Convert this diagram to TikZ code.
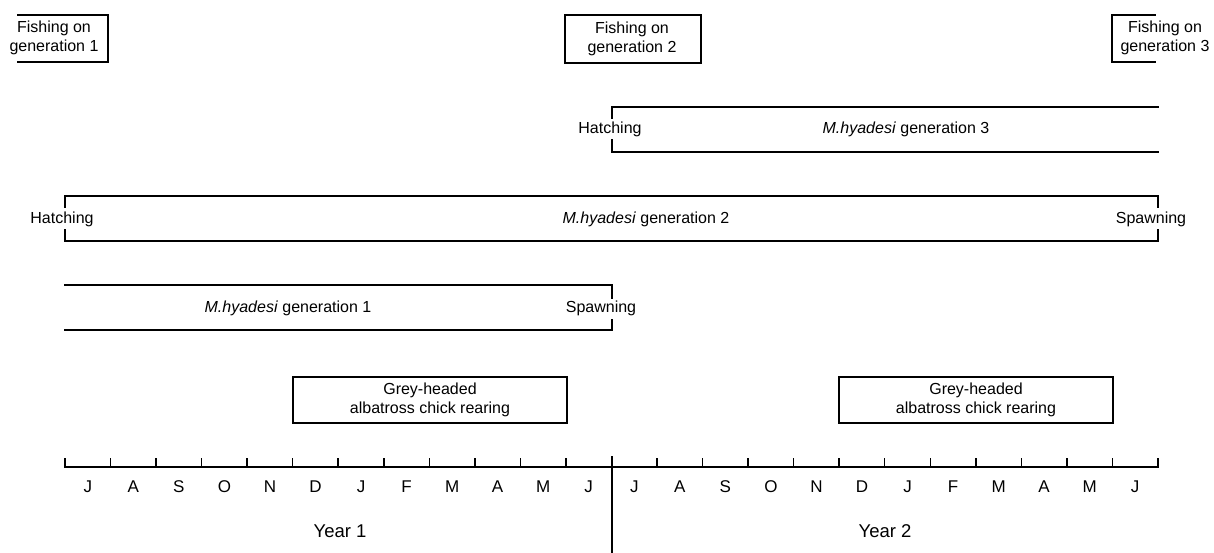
\documentclass[tikz,border=0pt]{standalone}
\usepackage{fontspec}
\setmainfont{Liberation Sans}
\begin{document}
\begin{tikzpicture}[x=1pt,y=-1pt,line width=1.5pt,line cap=rect,
  lbl/.style={font=\fontsize{16}{19.5}\selectfont,inner sep=0pt,align=center},
  mon/.style={font=\fontsize{17}{20}\selectfont,inner sep=0pt},
  yr/.style={font=\fontsize{18.5}{22}\selectfont,inner sep=0pt},
  box/.style={draw,line width=1.5pt,inner sep=0pt}]
\useasboundingbox (0,0) rectangle (1214,553);
% fishing boxes
\draw (18,15) -- (108,15) -- (108,62) -- (18,62);
\node[lbl] (f1) at (54,38) {Fishing on\\generation 1};
\draw[box] (565,15) rectangle (701,63);
\node[lbl] (f2) at (632,39) {Fishing on\\generation 2};
\draw (1155,15) -- (1112,15) -- (1112,62) -- (1155,62);
\node[lbl] (f3) at (1165,38) {Fishing on\\generation 3};
% generation 3
\draw (1158,107) -- (612,107) -- (612,118);
\draw (612,140) -- (612,152) -- (1158,152);
\node[lbl] (h3) at (610,129) {Hatching};
\node[lbl] (g3) at (906,129) {\textit{M.hyadesi} generation 3};
% generation 2
\draw (65,207) -- (65,196) -- (1158,196) -- (1158,207);
\draw (65,230) -- (65,241) -- (1158,241) -- (1158,230);
\node[lbl] (h2) at (62,219) {Hatching};
\node[lbl] (s2) at (1151,219) {Spawning};
\node[lbl] (g2) at (646,219) {\textit{M.hyadesi} generation 2};
% generation 1
\draw (65,285) -- (612,285) -- (612,298);
\draw (612,320) -- (612,330) -- (65,330);
\node[lbl] (s1) at (601,308) {Spawning};
\node[lbl] (g1) at (288,308) {\textit{M.hyadesi} generation 1};
% albatross
\draw[box] (293,377) rectangle (567,423);
\node[lbl] (a1) at (430,400) {Grey-headed\\albatross chick rearing};
\draw[box] (839,377) rectangle (1113,423);
\node[lbl] (a2) at (976,400) {Grey-headed\\albatross chick rearing};
% axis
\draw (65,467) -- (1158,467);
\foreach \i in {0,...,24} \draw (65+\i*45.54,467) -- (65+\i*45.54,459);
\foreach \m [count=\k from 0] in {J,A,S,O,N,D,J,F,M,A,M,J,J,A,S,O,N,D,J,F,M,A,M,J}
  \node[mon] (m\k) at (87.8+\k*45.54,487) {\m};
\draw (612,457) -- (612,553);
\node[yr] (y1) at (340,531) {Year 1};
\node[yr] (y2) at (885,531) {Year 2};
\end{tikzpicture}
\end{document}
